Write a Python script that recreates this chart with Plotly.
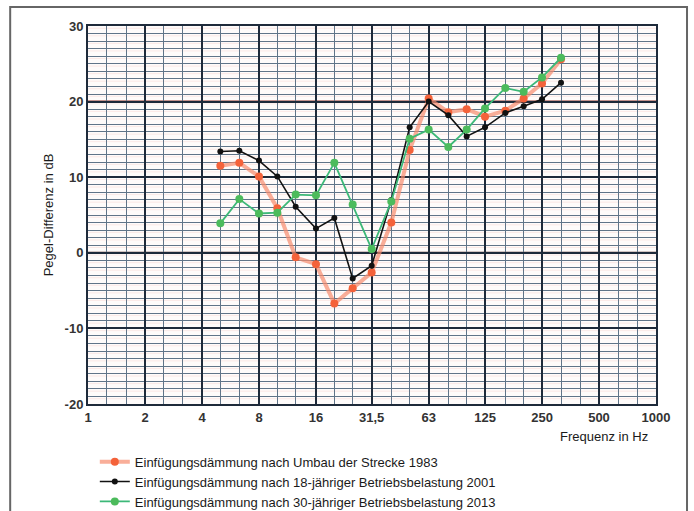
import numpy as np
import plotly.graph_objects as go

# Third-octave band centre frequencies (Hz)
freq = [5, 6.3, 8, 10, 12.5, 16, 20, 25, 31.5, 40, 50, 63, 80, 100, 125, 160, 200, 250, 315]

# Insertion loss (dB) per measurement campaign
il_1983 = [11.5, 11.9, 10.1, 5.9, -0.6, -1.5, -6.7, -4.7, -2.6, 4.0, 13.6, 20.4, 18.6, 19.0, 18.0, 18.8, 20.4, 22.4, 25.6]
il_2001 = [13.4, 13.5, 12.2, 10.1, 6.1, 3.2, 4.6, -3.4, -1.7, 7.0, 16.6, 20.0, 18.2, 15.4, 16.6, 18.5, 19.4, 20.3, 22.5]
il_2013 = [3.9, 7.1, 5.2, 5.3, 7.7, 7.6, 11.9, 6.4, 0.5, 6.8, 15.1, 16.3, 14.0, 16.3, 19.1, 21.8, 21.3, 23.2, 25.8]

names = [
    "Einfügungsdämmung nach Umbau der Strecke 1983",
    "Einfügungsdämmung nach 18-jähriger Betriebsbelastung 2001",
    "Einfügungsdämmung nach 30-jähriger Betriebsbelastung 2013",
]

# Octave axis ticks and third-octave grid lines
octave_vals = [1, 2, 4, 8, 16, 31.5, 63, 125, 250, 500, 1000]
octave_text = ["1", "2", "4", "8", "16", "31,5", "63", "125", "250", "500", "1000"]
third_vals = [1.25, 1.6, 2.5, 3.15, 5, 6.3, 10, 12.5, 20, 25, 40, 50, 80, 100,
              160, 200, 315, 400, 630, 800]
y_ticks = [-20, -10, 0, 10, 20, 30]
y_text = ["-20", "-10", "0", "10", "20", "30"]

fig = go.Figure()

fig.add_trace(go.Scatter(
    x=freq, y=il_1983, name=names[0], mode="lines+markers",
    line=dict(color="rgba(246,140,110,0.7)", width=4),
    marker=dict(color="#f4623a", size=8),
))
fig.add_trace(go.Scatter(
    x=freq, y=il_2001, name=names[1], mode="lines+markers",
    line=dict(color="#111111", width=1.6),
    marker=dict(color="#111111", size=6),
))
fig.add_trace(go.Scatter(
    x=freq, y=il_2013, name=names[2], mode="lines+markers",
    line=dict(color="#3cb878", width=1.8),
    marker=dict(color="#4cbb5c", size=8),
))

shapes = []
# faint pink lines of the graph paper next to the dB lines
for v in np.arange(-20.3, 30, 1.0):
    shapes.append(dict(type="line", xref="paper", yref="y", x0=0, x1=1, y0=v, y1=v,
                       line=dict(color="rgba(240,170,160,0.22)", width=1), layer="below"))
# red-brown accent lines at 20 and 0 dB
for v, c in [(20, "#8a2a22"), (0, "#4a1a16")]:
    shapes.append(dict(type="line", xref="paper", yref="y", x0=0, x1=1, y0=v, y1=v,
                       line=dict(color=c, width=2), layer="between"))
# outer frame
shapes.append(dict(type="rect", xref="paper", yref="paper",
                   x0=-0.137, x1=1.0546, y0=-0.35, y1=1.0503,
                   line=dict(color="#666666", width=2), fillcolor="rgba(0,0,0,0)"))

fig.update_layout(
    width=694, height=511,
    margin=dict(l=88, r=38, t=26, b=107, autoexpand=False),
    paper_bgcolor="white",
    plot_bgcolor="#fefbfa",
    font=dict(family="Liberation Sans, Arial, sans-serif", size=13, color="#222222"),
    shapes=shapes,
    showlegend=True,
    legend=dict(
        x=0.012, y=-0.113, xanchor="left", yanchor="top",
        bgcolor="rgba(0,0,0,0)", tracegroupgap=0,
        font=dict(size=13, color="#1a1a1a"),
        itemwidth=30,
    ),
    annotations=[dict(
        text="Frequenz in Hz", xref="paper", yref="paper",
        x=0.99, y=-0.087, xanchor="right", yanchor="middle", showarrow=False,
        font=dict(size=13, color="#1a1a1a"),
    )],
)

fig.update_xaxes(
    type="log", range=[0, 3],
    tickmode="array", tickvals=octave_vals, ticktext=octave_text,
    tickfont=dict(size=13, weight="bold", color="#333333"),
    showgrid=True, gridcolor="#1e2a3a", gridwidth=2,
    minor=dict(tickmode="array", tickvals=third_vals, showgrid=True,
               gridcolor="#607488", gridwidth=1, ticks=""),
    showline=True, linecolor="#1e2a3a", linewidth=2, mirror=True,
    ticks="", zeroline=False,
)
fig.update_yaxes(
    range=[-20, 30],
    tickmode="array", tickvals=y_ticks, ticktext=y_text,
    tickfont=dict(size=13, weight="bold", color="#333333"),
    showgrid=True, gridcolor="#1e2a3a", gridwidth=2,
    minor=dict(dtick=1, tick0=0, showgrid=True, gridcolor="#607488", gridwidth=1, ticks=""),
    showline=True, linecolor="#1e2a3a", linewidth=2, mirror=True,
    ticks="", zeroline=False,
    title=dict(text="Pegel-Differenz in dB", font=dict(size=13, color="#1a1a1a"), standoff=8),
)

fig.write_html("out.html")
